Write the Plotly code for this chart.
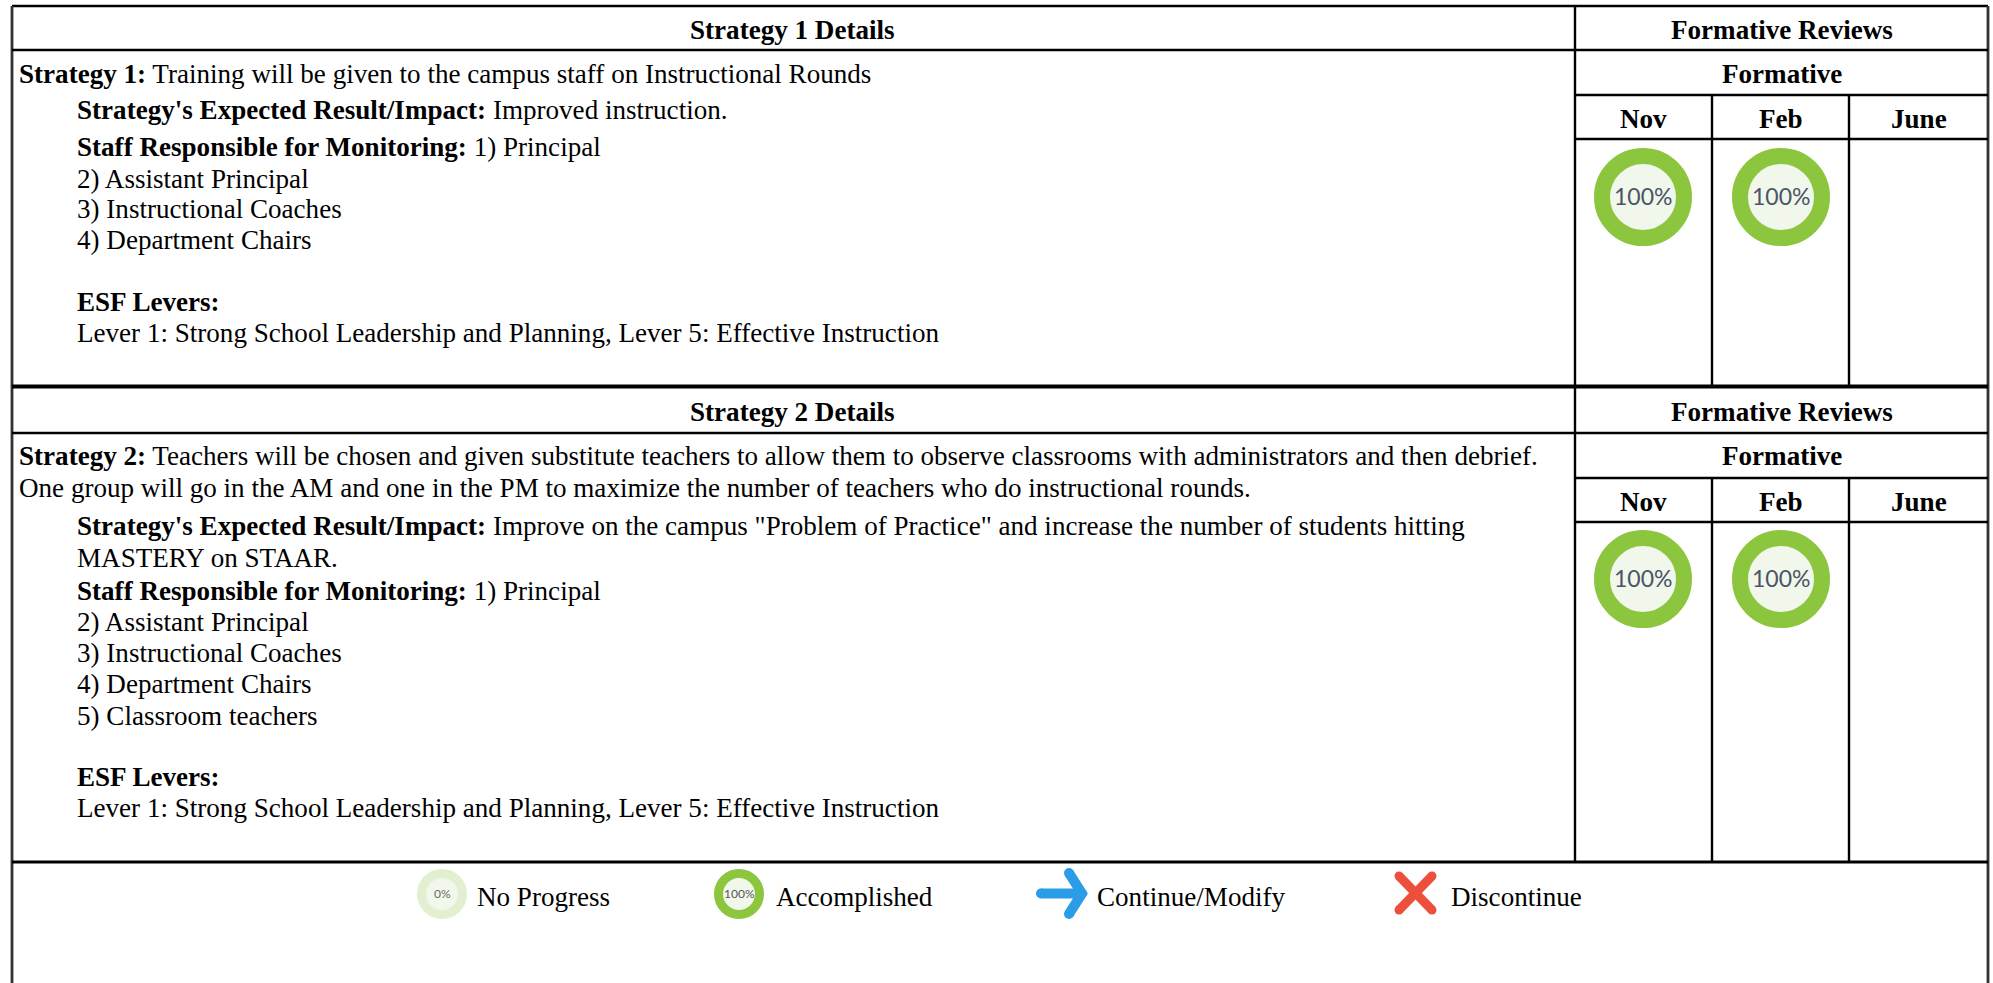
import plotly.graph_objects as go

# ---- content ----
headers = ["Strategy 1 Details", "Strategy 2 Details"]
review_header = "Formative Reviews"
sub_header = "Formative"
months = ["Nov", "Feb", "June"]
strategy1_lines = [
    "<b>Strategy 1:</b> Training will be given to the campus staff on Instructional Rounds",
    "<b>Strategy's Expected Result/Impact:</b> Improved instruction.",
    "<b>Staff Responsible for Monitoring:</b> 1) Principal",
    "2) Assistant Principal",
    "3) Instructional Coaches",
    "4) Department Chairs",
    "<b>ESF Levers:</b>",
    "Lever 1: Strong School Leadership and Planning, Lever 5: Effective Instruction",
]
strategy2_lines = [
    "<b>Strategy 2:</b> Teachers will be chosen and given substitute teachers to allow them to observe classrooms with administrators and then debrief.",
    "One group will go in the AM and one in the PM to maximize the number of teachers who do instructional rounds.",
    "<b>Strategy's Expected Result/Impact:</b> Improve on the campus \"Problem of Practice\" and increase the number of students hitting",
    "MASTERY on STAAR.",
    "<b>Staff Responsible for Monitoring:</b> 1) Principal",
    "2) Assistant Principal",
    "3) Instructional Coaches",
    "4) Department Chairs",
    "5) Classroom teachers",
    "<b>ESF Levers:</b>",
    "Lever 1: Strong School Leadership and Planning, Lever 5: Effective Instruction",
]
progress_s1 = ["100%", "100%"]
progress_s2 = ["100%", "100%"]
legend_labels = ["No Progress", "Accomplished", "Continue/Modify", "Discontinue"]

# ---- page layout (pixels) ----
W, H = 1993, 983
L, R, DIV, C2, C3 = 12, 1988, 1575, 1712, 1849
s1_y = [74, 110, 147, 179, 209, 240, 302, 333]
s1_x = [16.5, 74.5, 74.5, 74.5, 74.5, 74.5, 74.5, 74.5]
s2_y = [456, 488, 526, 558, 591, 622, 653, 684, 716, 777, 808]
s2_x = [16.5, 16.5, 74.5, 74.5, 74.5, 74.5, 74.5, 74.5, 74.5, 74.5, 74.5]
SERIF = "Liberation Serif"
FS = 27.08
BLACK = "#000000"
GREEN = "#8cc63f"
PALE = "#f1f7ea"

fig = go.Figure()
shapes, ann = [], []


def line(x0, y0, x1, y1, w=2.4, c=BLACK):
    shapes.append(dict(type="line", x0=x0, y0=y0, x1=x1, y1=y1,
                       line=dict(color=c, width=w), layer="below"))


def text(x, y, s, size=FS, anchor="left", font=SERIF, color=BLACK):
    ann.append(dict(x=x, y=y, text=s, showarrow=False, xanchor=anchor, yanchor="middle",
                    xref="x", yref="y", align=anchor,
                    font=dict(family=font, size=size, color=color)))


# frame
line(L, 6, R, 6)
line(L, 6, L, H, w=2.8, c="#333333")
line(R, 6, R, H, w=2.8, c="#333333")
line(DIV, 6, DIV, 862)

for top, bot, head_bot, sub_bot, mon_bot in [
    (6, 387, 50, 95, 139),
    (387, 862, 433, 478, 522),
]:
    line(L, head_bot, R, head_bot)
    line(DIV, sub_bot, R, sub_bot)
    line(DIV, mon_bot, R, mon_bot)
    line(C2, sub_bot, C2, bot)
    line(C3, sub_bot, C3, bot)
line(L, 386.5, R, 386.5, w=4)
line(L, 862, R, 862, w=3)

# headers
for head, yc_h, yc_s, yc_m in zip(headers, [30, 412], [74, 456], [119, 502]):
    text((L + DIV) / 2 - 1.5, yc_h, f"<b>{head}</b>", anchor="center")
    text((DIV + R) / 2, yc_h, f"<b>{review_header}</b>", anchor="center")
    text((DIV + R) / 2, yc_s, f"<b>{sub_header}</b>", anchor="center")
    for m, xc in zip(months, [(DIV + C2) / 2, (C2 + C3) / 2, (C3 + R) / 2]):
        text(xc, yc_m, f"<b>{m}</b>", anchor="center")

for s, x, y in zip(strategy1_lines, s1_x, s1_y):
    text(x, y, s)
for s, x, y in zip(strategy2_lines, s2_x, s2_y):
    text(x, y, s)

# progress rings
ring_x = [1643, 1781, 1643, 1781]
ring_y = [197, 197, 579, 579]
ring_txt = progress_s1 + progress_s2
fig.add_trace(go.Scatter(
    x=ring_x, y=ring_y, mode="markers", hoverinfo="skip", showlegend=False,
    marker=dict(size=82, color=PALE, line=dict(color=GREEN, width=16)),
))
for x, y, s in zip(ring_x, ring_y, ring_txt):
    text(x, y - 1.5, s, size=23, anchor="center", font="Lato", color="#4a5568")

# legend icons
fig.add_trace(go.Scatter(
    x=[442], y=[894], mode="markers", hoverinfo="skip", showlegend=False,
    marker=dict(size=41, color=PALE, line=dict(color="#e2efd0", width=9)),
))
fig.add_trace(go.Scatter(
    x=[739], y=[894], mode="markers", hoverinfo="skip", showlegend=False,
    marker=dict(size=41, color=PALE, line=dict(color=GREEN, width=9)),
))
text(442, 893, "0%", size=12, anchor="center", font="Lato", color="#6a6a6a")
text(739, 893, "100%", size=12, anchor="center", font="Lato", color="#555555")

BLUE = "#2b9de6"
RED = "#ee4f3c"
for xs, ys, c, w in [
    ([1041, 1078], [893.5, 893.5], BLUE, 10),
    ([1069, 1082, 1069], [873, 893.5, 914], BLUE, 10),
    ([1399, 1432], [876, 910], RED, 9),
    ([1432, 1399], [876, 910], RED, 9),
]:
    fig.add_trace(go.Scatter(x=xs, y=ys, mode="lines+markers", hoverinfo="skip", showlegend=False,
                             line=dict(color=c, width=w),
                             marker=dict(color=c, size=w, line=dict(width=0))))

for s, x in zip(legend_labels, [474.5, 773.5, 1095, 1449]):
    text(x, 897, s)

axis = dict(visible=False, showgrid=False, zeroline=False, fixedrange=True)
fig.update_layout(
    width=W, height=H, margin=dict(l=0, r=0, t=0, b=0, pad=0),
    paper_bgcolor="white", plot_bgcolor="white", showlegend=False,
    xaxis=dict(range=[0, W], **axis),
    yaxis=dict(range=[H, 0], **axis),
    shapes=shapes, annotations=ann,
)
fig.write_html("out.html", config={"displayModeBar": False},
               default_width=W, default_height=H,
               post_script="document.body.style.margin='0';document.body.style.overflow='hidden';")
